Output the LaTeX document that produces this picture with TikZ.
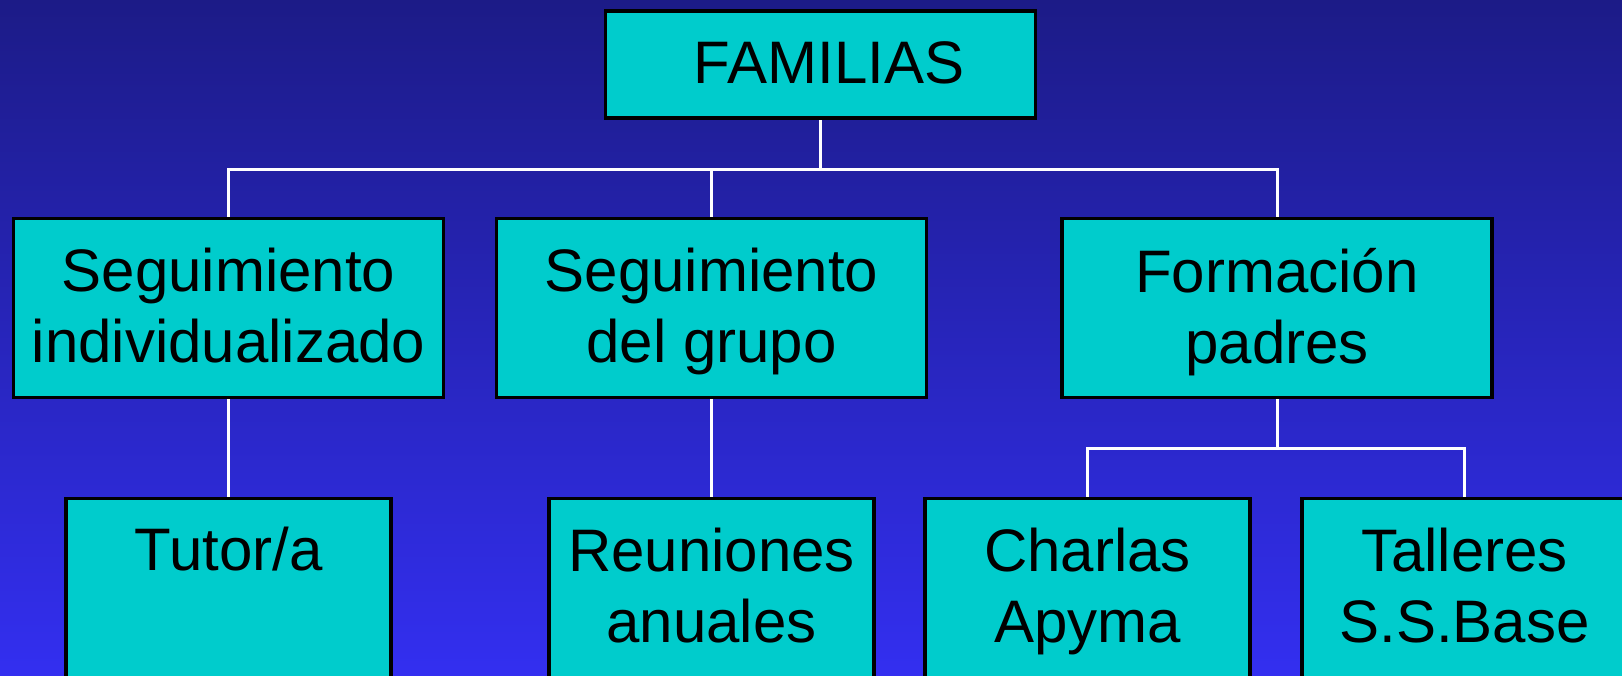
\documentclass[tikz,border=0pt]{standalone}
\usepackage{fontspec}
\setmainfont{Liberation Sans}
\pgfdeclarelayer{bg}
\pgfsetlayers{bg,main}
\definecolor{bgtop}{RGB}{28,27,135}
\definecolor{bgbot}{RGB}{51,47,240}
\definecolor{boxfill}{RGB}{0,204,204}
\begin{document}
\begin{tikzpicture}[x=1pt,y=-1pt,
  box/.style={draw=black, line width=3.5pt, fill=boxfill, inner sep=0pt, outer sep=0pt},
  topbox/.style={box, minimum width=430pt, minimum height=107pt},
  midbox/.style={box, minimum width=430pt, minimum height=179pt},
  lowbox/.style={box, minimum width=325pt, minimum height=221.5pt},
  lbl/.style={font=\fontsize{60}{71}\selectfont, align=center, inner sep=0pt, text=black},
  conn/.style={draw=white, line width=3pt}]
\useasboundingbox (0,0) rectangle (1622,675);
\clip (0,0) rectangle (1622,675);
% boxes
\node[topbox] (fam) at (820.5,64.7) {};
\node[midbox] (s1) at (228.5,308) {};
\node[midbox] (s2) at (711.5,308) {};
\node[midbox] (s3) at (1277,308) {};
\node[lowbox] (t1) at (228.5,609.25) {};
\node[lowbox] (t2) at (711.5,609.25) {};
\node[lowbox] (t3) at (1087.5,609.25) {};
\node[lowbox] (t4) at (1464.5,609.25) {};
% texts
\node[lbl, anchor=base] (famtxt) at (829,83.3) {FAMILIAS};
\node[lbl, anchor=north] (s1txt) at (228.5,248) {Seguimiento\\individualizado};
\node[lbl, anchor=north] (s2txt) at (711.5,248) {Seguimiento\\del grupo};
\node[lbl, anchor=north] (s3txt) at (1277,248) {Formación\\padres};
\node[lbl, anchor=base] (t1txt) at (228.5,570.7) {Tutor/a};
\node[lbl, anchor=north] (t2txt) at (711.5,527.5) {Reuniones\\anuales};
\node[lbl, anchor=north] (t3txt) at (1087.5,527.5) {Charlas\\Apyma};
\node[lbl, anchor=north] (t4txt) at (1464.5,527.5) {Talleres\\S.S.Base};
% connectors
\coordinate (busA) at (820.5,169);
\coordinate (busB) at (1277,448);
\begin{pgfonlayer}{bg}
\shade[top color=bgtop, bottom color=bgbot] (0,0) rectangle (1622,675);
\draw[conn] (fam.south) -- (busA);
\draw[conn] (s1.north) |- (busA) -| (s3.north);
\draw[conn] (s2.north) -- (s2.north |- busA);
\draw[conn] (s1.south) -- (t1.north);
\draw[conn] (s2.south) -- (t2.north);
\draw[conn] (s3.south) -- (busB);
\draw[conn] (t3.north) |- (busB) -| (t4.north);
\end{pgfonlayer}
\end{tikzpicture}
\end{document}
